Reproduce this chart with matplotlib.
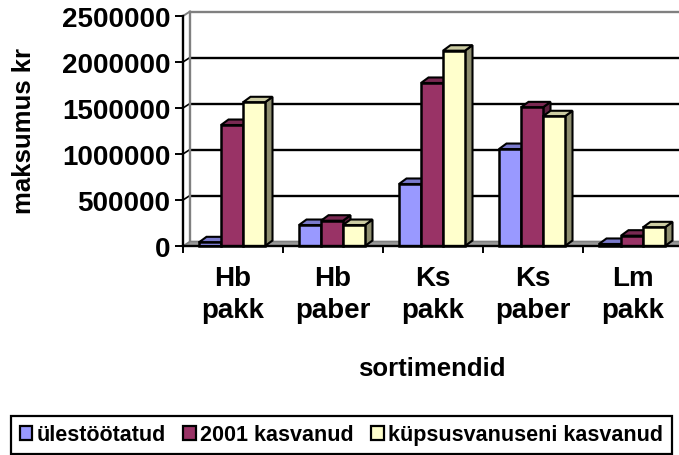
import matplotlib
matplotlib.use("Agg")
import matplotlib.pyplot as plt
from matplotlib.patches import Polygon, Patch
from matplotlib.ticker import FixedLocator

categories = ["Hb\npakk", "Hb\npaber", "Ks\npakk", "Ks\npaber", "Lm\npakk"]
series_names = ["ülestöötatud", "2001 kasvanud", "küpsusvanuseni kasvanud"]
ulestootatud = [40000, 228000, 674000, 1054000, 22000]
kasvanud_2001 = [1315000, 275000, 1772000, 1507000, 112000]
kupsusvanuseni = [1562000, 228000, 2123000, 1410000, 203000]
yticks = [0, 500000, 1000000, 1500000, 2000000, 2500000]

series = [ulestootatud, kasvanud_2001, kupsusvanuseni]
front_c = ["#9999FF", "#993366", "#FFFFCC"]
top_c = ["#7A7ACC", "#7A2952", "#CCCCA3"]
side_c = ["#5C5C99", "#5C1F3D", "#8F8F70"]

plt.rcParams['font.family'] = ['Liberation Sans', 'DejaVu Sans']
plt.rcParams['font.weight'] = 'bold'

W, H = 679, 456
fig = plt.figure(figsize=(W / 100, H / 100), dpi=100)
ax = fig.add_axes([183 / W, (H - 247) / H, 500 / W, 230 / H])
ax.set_xlim(-0.5, 4.5)
ax.set_ylim(0, 2500000)

px_x = 5.0 / 500
px_y = 2500000 / 230.0
dxw, dyw = 7 * px_x, 4.5 * px_y     # wall depth
dxb, dyb = 7.5 * px_x, 5.5 * px_y   # bar depth
xr = 4.5 + 10 * px_x

# floor
ax.add_patch(Polygon([(-0.5, 0), (xr, 0), (xr + dxw, dyw), (-0.5 + dxw, dyw)],
                     closed=True, facecolor="#999999", edgecolor="#808080",
                     lw=1.2, zorder=1, clip_on=False))
# back wall gridlines and side-wall gridlines
for v in yticks[1:-1]:
    ax.plot([-0.5 + dxw, xr + dxw], [v + dyw, v + dyw], color="black", lw=1.7,
            zorder=0.5, clip_on=False, solid_capstyle="butt")
    ax.plot([-0.5, -0.5 + dxw], [v, v + dyw], color="black", lw=1.2,
            zorder=0.5, clip_on=False)
top_v = yticks[-1]
ax.plot([-0.5 + dxw, xr + dxw], [top_v + dyw, top_v + dyw], color="#808080",
        lw=1.7, zorder=0.5, clip_on=False)
ax.plot([-0.5, -0.5 + dxw], [top_v, top_v + dyw], color="#808080", lw=1.4,
        zorder=0.5, clip_on=False)
ax.plot([-0.5 + dxw, -0.5 + dxw], [dyw, top_v + dyw], color="#808080", lw=1.7,
        zorder=0.5, clip_on=False)

# bars
bw = 0.22
offs = [-0.34, -0.12, 0.10]
xs = list(range(len(categories)))
for j, vals in enumerate(series):
    z = 3 + j * 0.2
    lefts = [i + offs[j] for i in xs]
    for x0, v in zip(lefts, vals):
        ax.add_patch(Polygon([(x0 + bw, 0), (x0 + bw + dxb, dyb),
                              (x0 + bw + dxb, v + dyb), (x0 + bw, v)],
                             closed=True, facecolor=side_c[j], edgecolor="black",
                             lw=1.5, zorder=z, clip_on=False))
        ax.add_patch(Polygon([(x0, v), (x0 + bw, v), (x0 + bw + dxb, v + dyb),
                              (x0 + dxb, v + dyb)],
                             closed=True, facecolor=top_c[j], edgecolor="black",
                             lw=1.5, zorder=z, clip_on=False))
    ax.bar(lefts, vals, width=bw, align="edge", color=front_c[j],
           edgecolor="black", lw=1.8, zorder=z + 0.1, clip_on=False)

# spines / ticks
for s in ["top", "right"]:
    ax.spines[s].set_visible(False)
for s in ["left", "bottom"]:
    ax.spines[s].set_color("black")
    ax.spines[s].set_linewidth(1.7)
    ax.spines[s].set_zorder(5)
ax.set_yticks(yticks)
ax.set_yticklabels([str(v) for v in yticks])
ax.tick_params(axis="y", direction="out", length=6, width=1.4, pad=3,
               labelsize=20)
ax.set_xticks(xs)
ax.set_xticklabels(categories, linespacing=1.3)
ax.xaxis.set_minor_locator(FixedLocator([i - 0.5 for i in range(len(categories) + 1)]))
ax.tick_params(axis="x", which="major", length=0, pad=14, labelsize=20)
ax.tick_params(axis="x", which="minor", direction="out", length=5, width=1.4)
ax.patch.set_visible(False)

fig.text(432 / W, (H - 376) / H, "sortimendid", ha="center", va="baseline",
         fontsize=18.5, fontweight="bold")
fig.text(24 / W, (H - 131) / H, "maksumus kr", ha="center", va="center",
         rotation=90, fontsize=18.5, fontweight="bold")

handles = [Patch(facecolor=c, edgecolor="black", lw=1.6) for c in front_c]
leg = fig.legend(handles, series_names, loc="center",
                 bbox_to_anchor=(341.5 / W, (H - 436) / H), ncol=3,
                 fontsize=15.5, handlelength=0.6, handleheight=0.6,
                 handletextpad=0.2, columnspacing=0.8, borderpad=0.4,
                 fancybox=False, edgecolor="black", framealpha=1)
leg.get_frame().set_linewidth(1.6)

fig.savefig("out.png", dpi=100)
